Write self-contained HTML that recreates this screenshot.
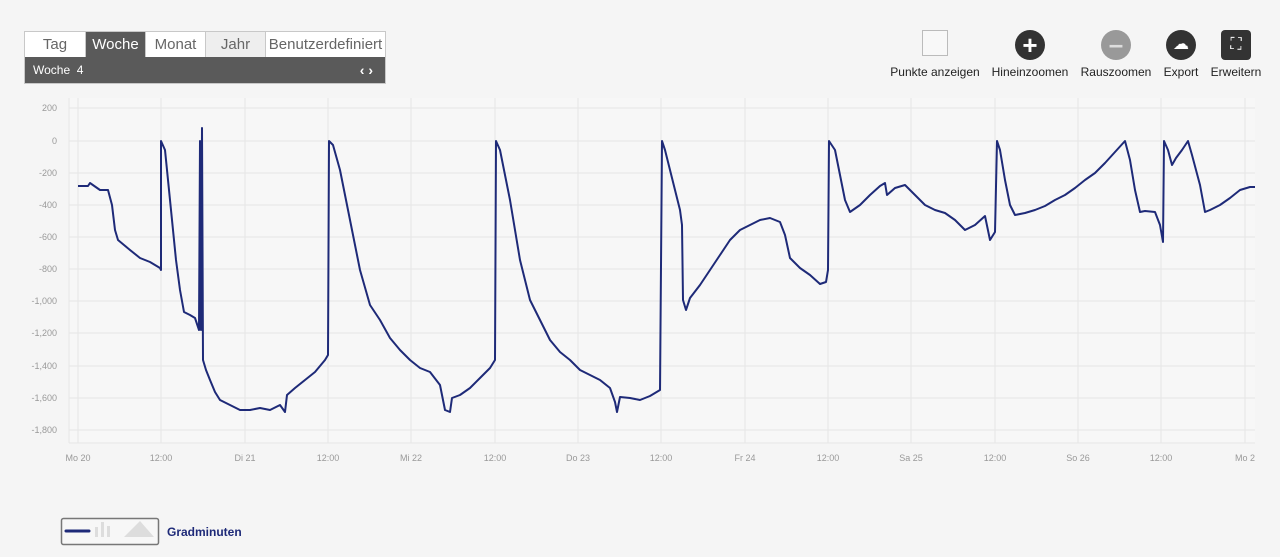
<!DOCTYPE html>
<html><head><meta charset="utf-8"><style>
body{margin:0;width:1280px;height:557px;background:#f5f5f5;font-family:"Liberation Sans",sans-serif;position:relative;overflow:hidden}
.tabs{position:absolute;left:24px;top:31px;width:360px;border:1px solid #c8c8c8;}
.row{display:flex;height:25px}
.row div{border-right:1px solid #c8c8c8;text-align:center;line-height:25px;font-size:15px;color:#666;background:#fff}
.bar{height:26px;background:#5a5a5a;color:#fff;font-size:12px;line-height:26px;padding-left:8px;position:relative}
.tb{position:absolute;top:30px;text-align:center;font-size:12px;color:#222}
.ic{width:30px;height:30px;margin:0 auto 5px;border-radius:50%}
</style></head><body>
<div class="tabs"><div class="row">
<div style="width:60px">Tag</div><div style="width:59px;background:#5a5a5a;color:#fff">Woche</div><div style="width:59px">Monat</div><div style="width:59px;background:#eee">Jahr</div><div style="flex:1;border-right:none">Benutzerdefiniert</div></div>
<div class="bar">Woche&nbsp; 4<span style="position:absolute;right:12px;font-weight:bold;font-size:14px">&lsaquo; &rsaquo;</span></div></div>
<div class="tb" style="left:890px;width:90px"><div style="width:24px;height:24px;border:1px solid #bbb;margin:0 auto 9px;background:#f8f8f8"></div>Punkte anzeigen</div>
<div class="tb" style="left:990px;width:80px"><div class="ic" style="background:#333;color:#fff;font-size:26px;line-height:30px;font-weight:bold">+</div>Hineinzoomen</div>
<div class="tb" style="left:1080px;width:72px"><div class="ic" style="background:#999;color:#ddd;font-size:26px;line-height:28px;font-weight:bold">–</div>Rauszoomen</div>
<div class="tb" style="left:1160px;width:42px"><div class="ic" style="background:#333;color:#fff;font-size:16px;line-height:30px">☁</div>Export</div>
<div class="tb" style="left:1208px;width:56px"><div class="ic" style="background:#333;border-radius:4px;color:#fff;font-size:16px;line-height:30px">⛶</div>Erweitern</div>
<svg style="position:absolute;left:0;top:0" width="1280" height="557">
<rect x="69" y="98" width="1186" height="345" fill="#f7f7f7"/>
<g stroke="#e6e6e6" stroke-width="1">
<line x1="69" x2="1255" y1="108" y2="108"/><line x1="69" x2="1255" y1="141" y2="141"/><line x1="69" x2="1255" y1="173" y2="173"/><line x1="69" x2="1255" y1="205" y2="205"/><line x1="69" x2="1255" y1="237" y2="237"/><line x1="69" x2="1255" y1="269" y2="269"/><line x1="69" x2="1255" y1="301" y2="301"/><line x1="69" x2="1255" y1="333" y2="333"/><line x1="69" x2="1255" y1="366" y2="366"/><line x1="69" x2="1255" y1="398" y2="398"/><line x1="69" x2="1255" y1="430" y2="430"/>
<line x1="69" x2="1255" y1="443" y2="443"/><line x1="69" x2="69" y1="98" y2="443"/>
<line x1="78" x2="78" y1="98" y2="443"/><line x1="161" x2="161" y1="98" y2="443"/><line x1="245" x2="245" y1="98" y2="443"/><line x1="328" x2="328" y1="98" y2="443"/><line x1="411" x2="411" y1="98" y2="443"/><line x1="495" x2="495" y1="98" y2="443"/><line x1="578" x2="578" y1="98" y2="443"/><line x1="661" x2="661" y1="98" y2="443"/><line x1="745" x2="745" y1="98" y2="443"/><line x1="828" x2="828" y1="98" y2="443"/><line x1="911" x2="911" y1="98" y2="443"/><line x1="995" x2="995" y1="98" y2="443"/><line x1="1078" x2="1078" y1="98" y2="443"/><line x1="1161" x2="1161" y1="98" y2="443"/><line x1="1245" x2="1245" y1="98" y2="443"/>
</g>
<g font-size="9" fill="#999" text-anchor="end">
<text x="57" y="111">200</text><text x="57" y="144">0</text><text x="57" y="176">-200</text><text x="57" y="208">-400</text><text x="57" y="240">-600</text><text x="57" y="272">-800</text><text x="57" y="304">-1,000</text><text x="57" y="336">-1,200</text><text x="57" y="369">-1,400</text><text x="57" y="401">-1,600</text><text x="57" y="433">-1,800</text></g>
<g font-size="9" fill="#999" text-anchor="middle">
<text x="78" y="461">Mo 20</text><text x="161" y="461">12:00</text><text x="245" y="461">Di 21</text><text x="328" y="461">12:00</text><text x="411" y="461">Mi 22</text><text x="495" y="461">12:00</text><text x="578" y="461">Do 23</text><text x="661" y="461">12:00</text><text x="745" y="461">Fr 24</text><text x="828" y="461">12:00</text><text x="911" y="461">Sa 25</text><text x="995" y="461">12:00</text><text x="1078" y="461">So 26</text><text x="1161" y="461">12:00</text><text x="1245" y="461">Mo 2</text></g>
<polyline fill="none" stroke="#1e2a78" stroke-width="2" stroke-linejoin="round" points="78,186 88,186 90,183 100,190 108,190 112,205 115,230 118,240 124,245 130,250 140,258 150,262 160,268 161,270 161,141 165,150 168,180 172,220 176,260 180,290 184,312 190,315 195,318 199,330 200,141 201,330 202,128 203,360 206,370 210,380 215,392 220,400 230,405 240,410 250,410 260,408 270,410 280,405 285,412 287,395 295,388 305,380 315,372 325,360 328,355 329,141 333,145 340,170 350,220 360,270 370,305 380,320 390,338 400,350 410,360 420,368 430,372 440,385 445,410 450,412 452,398 460,395 470,388 480,378 490,368 495,360 496,141 500,150 510,200 520,260 530,300 540,320 550,340 560,352 570,360 580,370 590,375 600,380 610,388 615,402 617,412 620,397 630,398 640,400 650,396 660,390 662,141 665,150 670,170 680,210 682,225 683,300 686,310 690,298 700,285 710,270 720,255 730,240 740,230 750,225 760,220 770,218 780,222 785,235 790,258 800,268 810,275 820,284 826,282 828,270 829,141 835,150 840,175 845,200 850,212 860,205 870,195 880,186 885,183 887,195 895,188 905,185 915,195 925,205 935,210 945,213 955,220 965,230 975,225 985,216 990,240 995,232 997,141 1000,150 1005,180 1010,205 1015,215 1025,213 1035,210 1045,206 1055,200 1065,195 1075,188 1085,180 1095,173 1105,163 1115,152 1125,141 1130,160 1135,190 1140,212 1145,211 1155,212 1160,225 1163,242 1164,141 1168,150 1172,165 1176,158 1182,150 1188,141 1192,155 1200,185 1205,212 1210,210 1220,205 1230,198 1240,190 1250,187 1255,187"/>
<rect x="61.5" y="518.5" width="97" height="26" rx="2" fill="#f7f7f7" stroke="#777" stroke-width="1.5"/>
<line x1="66" x2="89" y1="531" y2="531" stroke="#1e2a78" stroke-width="3" stroke-linecap="round"/>
<rect x="95" y="527" width="3" height="10" fill="#ddd"/><rect x="101" y="522" width="3" height="15" fill="#ddd"/><rect x="107" y="526" width="3" height="11" fill="#ddd"/>
<polygon points="124,537 140,521 154,537" fill="#ddd"/>
<text x="167" y="536" font-size="12" font-weight="bold" fill="#1e2a78">Gradminuten</text>
</svg>
</body></html>
